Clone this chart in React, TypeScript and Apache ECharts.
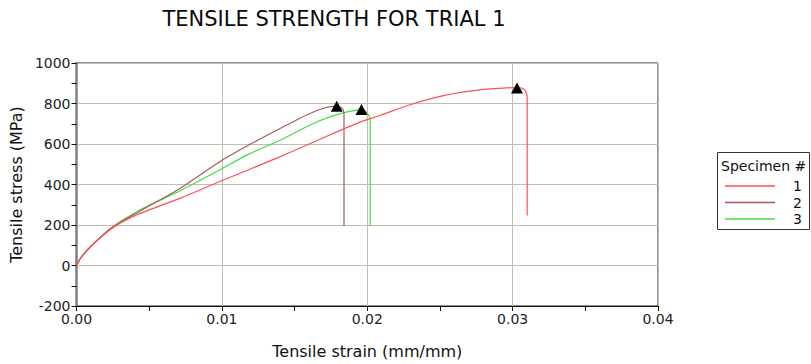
import React, { useEffect, useRef } from "react";
import * as echarts from "echarts";

const FONT = "DejaVu Sans";

const seriesNames = ["1", "2", "3"];
const seriesColors = ["#ff5050", "#a85a5a", "#44dd44"];

// Specimen 1: strain (mm/mm), stress (MPa)
const strain1 = [0, 0.0003, 0.001, 0.0024, 0.0042, 0.0072, 0.0099, 0.0141, 0.0175, 0.0195, 0.0209, 0.023, 0.0253, 0.0276, 0.0296, 0.0303, 0.0307, 0.0309, 0.031, 0.031];
const stress1 = [0, 38, 95, 182, 252, 334, 416, 540, 647, 708, 742, 795, 840, 866, 877, 879, 874, 861, 830, 247];

// Specimen 2
const strain2 = [0, 0.0003, 0.001, 0.0024, 0.0042, 0.0072, 0.0099, 0.0117, 0.0141, 0.0159, 0.0171, 0.0179, 0.0183, 0.0184, 0.0184];
const stress2 = [0, 38, 95, 185, 262, 384, 515, 589, 680, 746, 779, 787, 775, 750, 194];

// Specimen 3
const strain3 = [0, 0.0003, 0.001, 0.0024, 0.0042, 0.0072, 0.0099, 0.0117, 0.0141, 0.0164, 0.0182, 0.0193, 0.0197, 0.02, 0.0202, 0.0202];
const stress3 = [0, 40, 97, 187, 268, 372, 474, 545, 622, 705, 751, 767, 768, 752, 720, 194];

// Peak (ultimate strength) markers
const peakStrain = [0.0303, 0.0179, 0.0196];
const peakStress = [877, 787, 770];

const zip = (xs: number[], ys: number[]) => xs.map((x, i) => [x, ys[i]]);

export default function App() {
  const ref = useRef<HTMLDivElement>(null);
  useEffect(() => {
    if (!ref.current) return;
    const chart = echarts.init(ref.current, null, { renderer: "svg" });
    const datasets = [zip(strain1, stress1), zip(strain2, stress2), zip(strain3, stress3)];
    chart.setOption({
      animation: false,
      textStyle: { fontFamily: FONT },
      title: {
        text: "TENSILE STRENGTH FOR TRIAL 1",
        left: 329,
        top: 3,
        textAlign: "center",
        textStyle: { fontFamily: FONT, fontSize: 21, fontWeight: "normal", color: "#0a0a0a" },
      },
      grid: {
        left: 76,
        right: 153,
        top: 63,
        bottom: 58,
        show: true,
        borderColor: "#222",
        borderWidth: 1,
        backgroundColor: "transparent",
      },
      legend: {
        data: seriesNames.map((n) => ({ name: n, icon: "rect" })),
        orient: "vertical",
        left: 720,
        top: 174,
        itemWidth: 50,
        itemHeight: 1.5,
        itemGap: 2.5,
        selectedMode: false,
        textStyle: { fontFamily: FONT, fontSize: 14, lineHeight: 14, color: "#111", padding: [0, 0, 0, 13] },
      },
      graphic: [
        {
          type: "rect",
          shape: { x: 717.5, y: 152.5, width: 92, height: 77 },
          style: { fill: "transparent", stroke: "#333", lineWidth: 1 },
        },
        {
          type: "text",
          x: 721,
          y: 166,
          style: { text: "Specimen #", fontFamily: FONT, fontSize: 14, fill: "#111", verticalAlign: "middle" },
        },
      ],
      xAxis: {
        type: "value",
        min: 0,
        max: 0.04,
        interval: 0.01,
        name: "Tensile strain (mm/mm)",
        nameLocation: "middle",
        nameGap: 37,
        nameTextStyle: { fontFamily: FONT, fontSize: 16, color: "#111" },
        axisLine: { onZero: false, lineStyle: { color: "#111", width: 1 } },
        axisTick: { show: true, length: 5, lineStyle: { color: "#111" } },
        minorTick: { show: true, splitNumber: 2, length: 5, lineStyle: { color: "#111" } },
        axisLabel: {
          fontFamily: FONT,
          fontSize: 14,
          color: "#222",
          margin: 6,
          formatter: (v: number) => v.toFixed(2),
        },
        splitLine: { show: true, lineStyle: { color: "#c2beb0", width: 1 } },
      },
      yAxis: {
        type: "value",
        min: -200,
        max: 1000,
        interval: 200,
        name: "Tensile stress (MPa)",
        nameLocation: "middle",
        nameGap: 50,
        nameTextStyle: { fontFamily: FONT, fontSize: 16, color: "#111" },
        axisLine: { onZero: false, lineStyle: { color: "#808080", width: 2.5 } },
        axisTick: { show: true, length: 5, lineStyle: { color: "#111" } },
        minorTick: { show: true, splitNumber: 2, length: 5, lineStyle: { color: "#111" } },
        axisLabel: { fontFamily: FONT, fontSize: 14, color: "#222", margin: 6, formatter: (v: number) => String(v) },
        splitLine: { show: true, lineStyle: { color: "#c2beb0", width: 1 } },
      },
      series: [
        ...seriesNames.map((name, i) => ({
          name,
          type: "line",
          data: datasets[i],
          symbol: "none",
          smooth: 0.25,
          lineStyle: { color: seriesColors[i], width: 1.2 },
          itemStyle: { color: seriesColors[i] },
          z: 3 - i,
        })),
        {
          name: "peaks",
          type: "scatter",
          data: zip(peakStrain, peakStress),
          symbol: "triangle",
          symbolSize: [12, 11],
          itemStyle: { color: "#000", opacity: 1 },
          z: 10,
        },
      ],
    });
    return () => chart.dispose();
  }, []);
  return <div ref={ref} style={{ width: 811, height: 364, position: "absolute", left: 0, top: 0 }} />;
}
